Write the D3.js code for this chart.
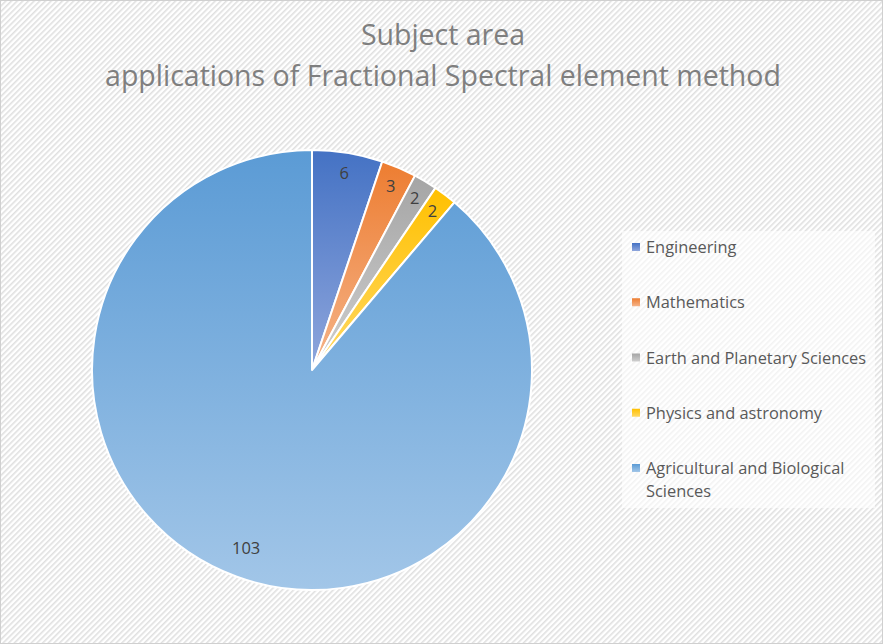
<!DOCTYPE html>
<html>
<head>
<meta charset="utf-8">
<script src="https://cdn.jsdelivr.net/npm/d3@7"></script>
<style>
  html, body { margin: 0; padding: 0; background: #fff; }
  svg { display: block; }
</style>
</head>
<body>
<svg id="chart" width="883" height="644"></svg>
<script>
const categories = ['Engineering', 'Mathematics', 'Earth and Planetary Sciences', 'Physics and astronomy', 'Agricultural and Biological Sciences'];
const values = [6, 3, 2, 2, 103];
const topColors = ['#4472c4', '#ed7d31', '#a5a5a5', '#ffc000', '#5b9bd5'];
const bottomColors = ['#8fa6dc', '#f5b48a', '#cfcfcf', '#ffd966', '#a2c6e8'];
const titleLines = ['Subject area', 'applications of Fractional Spectral element method'];

const svg = d3.select('#chart');
const width = +svg.attr('width');
const height = +svg.attr('height');
const font = "'Open Sans', 'Liberation Sans', sans-serif";

const defs = svg.append('defs');

// hatched background
const pat = defs.append('pattern')
    .attr('id', 'hatch')
    .attr('width', 4).attr('height', 4)
    .attr('patternUnits', 'userSpaceOnUse')
    .attr('patternTransform', 'rotate(45)');
pat.append('rect').attr('width', 4).attr('height', 4).attr('fill', '#ffffff');
pat.append('rect').attr('width', 1.6).attr('height', 4).attr('fill', '#e0e0e0');

svg.append('rect')
    .attr('x', 0.5).attr('y', 0.5)
    .attr('width', width - 1).attr('height', height - 1)
    .attr('fill', 'url(#hatch)')
    .attr('stroke', '#d0d0d0');

categories.forEach((c, i) => {
    const g = defs.append('linearGradient')
        .attr('id', 'grad' + i)
        .attr('x1', 0).attr('y1', 0).attr('x2', 0).attr('y2', 1);
    g.append('stop').attr('offset', '0%').attr('stop-color', topColors[i]);
    g.append('stop').attr('offset', '100%').attr('stop-color', bottomColors[i]);
});

// title
const title = svg.append('g');
titleLines.forEach((t, i) => {
    title.append('text')
        .attr('x', 443)
        .attr('y', 45 + i * 41)
        .attr('text-anchor', 'middle')
        .style('font-family', font)
        .style('font-size', '28px')
        .style('fill', '#7f7f7f')
        .text(t);
});
// fit the long line to the reference width
const long = title.selectAll('text').nodes()[1];
const scaleF = 676 / long.getComputedTextLength();
title.selectAll('text').style('font-size', (28 * scaleF) + 'px');

// pie
const cx = 312, cy = 370, radius = 220;
const pie = d3.pie().sort(null).value(d => d.value);
const arcs = pie(categories.map((c, i) => ({ name: c, value: values[i], i: i })));
const arc = d3.arc().innerRadius(0).outerRadius(radius);
const labelArc = d3.arc().innerRadius(199).outerRadius(199);

const pg = svg.append('g').attr('transform', `translate(${cx},${cy})`);

pg.selectAll('path')
    .data(arcs)
    .enter().append('path')
    .attr('d', arc)
    .attr('fill', d => 'url(#grad' + d.data.i + ')')
    .attr('stroke', '#ffffff')
    .attr('stroke-width', 2)
    .attr('stroke-linejoin', 'round');

pg.selectAll('.lbl')
    .data(arcs)
    .enter().append('text')
    .attr('class', 'lbl')
    .attr('transform', d => {
        const p = labelArc.centroid(d);
        // big slice label sits a bit further in, as in the original
        const k = d.data.value > 50 ? 0.96 : 1;
        return `translate(${p[0] * k},${p[1] * k + 5})`;
    })
    .attr('text-anchor', 'middle')
    .style('font-family', font)
    .style('font-size', '16.5px')
    .style('fill', '#404040')
    .text(d => d.data.value);

// legend
const lg = svg.append('g');
lg.append('rect')
    .attr('x', 622).attr('y', 231)
    .attr('width', 253).attr('height', 277)
    .attr('fill', '#ffffff')
    .attr('fill-opacity', 0.6);

const legendY = d3.scalePoint().domain(categories).range([247, 468]);

const items = lg.selectAll('.item')
    .data(categories)
    .enter().append('g')
    .attr('class', 'item')
    .attr('transform', d => `translate(632,${legendY(d)})`);

items.append('rect')
    .attr('x', 0).attr('y', -4)
    .attr('width', 8).attr('height', 8)
    .attr('fill', (d, i) => 'url(#grad' + i + ')');

items.append('text')
    .attr('x', 14)
    .attr('y', 6)
    .style('font-family', font)
    .style('font-size', '16.4px')
    .style('fill', '#595959')
    .each(function(d) {
        const t = d3.select(this);
        if (d === 'Agricultural and Biological Sciences') {
            t.append('tspan').attr('x', 14).attr('dy', 0).text('Agricultural and Biological');
            t.append('tspan').attr('x', 14).attr('dy', 23).text('Sciences');
        } else {
            t.text(d);
        }
    });
</script>
</body>
</html>
